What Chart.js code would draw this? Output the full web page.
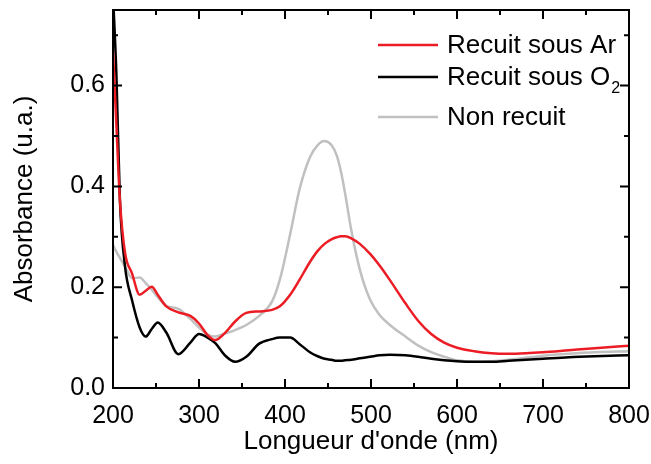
<!DOCTYPE html>
<html>
<head>
<meta charset="utf-8">
<script src="https://cdn.jsdelivr.net/npm/chart.js@4"></script>
<style>
  html, body { margin: 0; padding: 0; background: #fff; }
</style>
</head>
<body>
<canvas id="spectra" width="651" height="464"></canvas>
<script>
// wavelengths (nm)
const wavelengths = [200, 204, 208, 214, 222, 231, 238, 245, 252, 262, 276, 290, 300, 310, 319, 330, 342, 355,
    370, 385, 394, 406, 417, 429, 438, 446, 454, 460, 465, 470, 477, 487, 499, 510, 522, 540, 555, 570, 585, 600,
    620, 640, 660, 680, 700, 730, 760, 800];

// absorbance (u.a.)
const recuitAr = [0.668, 0.52, 0.374, 0.268, 0.228, 0.185, 0.193, 0.201, 0.185, 0.162, 0.150, 0.143, 0.128, 0.105, 0.095, 0.109, 0.132, 0.149,
    0.152, 0.155, 0.162, 0.185, 0.215, 0.250, 0.272, 0.286, 0.295, 0.299, 0.301, 0.301, 0.297, 0.286, 0.266, 0.243, 0.214, 0.168, 0.133, 0.107, 0.090, 0.080,
    0.073, 0.069, 0.068, 0.069, 0.071, 0.075, 0.079, 0.084];
const recuitO2 = [0.78, 0.62, 0.374, 0.241, 0.175, 0.120, 0.102, 0.117, 0.130, 0.110, 0.067, 0.090, 0.107, 0.100, 0.089, 0.065, 0.052, 0.062,
    0.088, 0.097, 0.100, 0.100, 0.087, 0.071, 0.063, 0.058, 0.056, 0.054, 0.054, 0.055, 0.056, 0.059, 0.062, 0.065, 0.066, 0.065, 0.062, 0.058, 0.055, 0.053,
    0.052, 0.052, 0.054, 0.056, 0.058, 0.061, 0.063, 0.065];
const nonRecuit = [0.284, 0.270, 0.258, 0.241, 0.218, 0.219, 0.208, 0.195, 0.180, 0.163, 0.157, 0.137, 0.120, 0.106, 0.102, 0.108, 0.115, 0.125,
    0.143, 0.172, 0.215, 0.305, 0.395, 0.458, 0.482, 0.490, 0.482, 0.462, 0.430, 0.385, 0.314, 0.235, 0.175, 0.145, 0.125, 0.102, 0.084, 0.071, 0.062, 0.055,
    0.052, 0.053, 0.056, 0.060, 0.064, 0.068, 0.071, 0.073];

const xTicks = [200, 300, 400, 500, 600, 700, 800];
const xMinorTicks = [250, 350, 450, 550, 650, 750];
const yTicks = [0, 0.2, 0.4, 0.6];
const yMinorTicks = [0.1, 0.3, 0.5, 0.7];

const FONT = "'Liberation Sans', Arial, sans-serif";

const toPoints = ys => wavelengths.map((x, i) => ({ x: x, y: ys[i] }));

// frame with inward ticks on all four sides
const frameTicks = {
    id: "frameTicks",
    afterDraw(chart) {
        const { ctx, chartArea: a, scales: { x, y } } = chart;
        ctx.save();
        ctx.strokeStyle = "#000";
        ctx.lineWidth = 2;
        ctx.beginPath();
        const tick = (px, len, horiz) => {
            if (horiz) {
                ctx.moveTo(px, a.bottom); ctx.lineTo(px, a.bottom - len);
                ctx.moveTo(px, a.top); ctx.lineTo(px, a.top + len);
            } else {
                ctx.moveTo(a.left, px); ctx.lineTo(a.left + len, px);
                ctx.moveTo(a.right, px); ctx.lineTo(a.right - len, px);
            }
        };
        xTicks.forEach(v => tick(x.getPixelForValue(v), 9, true));
        xMinorTicks.forEach(v => tick(x.getPixelForValue(v), 5, true));
        yTicks.forEach(v => tick(y.getPixelForValue(v), 9, false));
        yMinorTicks.forEach(v => tick(y.getPixelForValue(v), 5, false));
        ctx.stroke();
        ctx.strokeRect(a.left, a.top, a.right - a.left, a.bottom - a.top);
        ctx.restore();
    }
};

// legend in the upper right, with subscript for O2
const innerLegend = {
    id: "innerLegend",
    afterDraw(chart) {
        const ctx = chart.ctx;
        const rows = [45, 77, 117];
        ctx.save();
        ctx.textBaseline = "middle";
        ctx.fillStyle = "#000";
        chart.data.datasets.forEach((ds, i) => {
            const yy = rows[i];
            ctx.strokeStyle = ds.borderColor;
            ctx.lineWidth = 2.5;
            ctx.beginPath();
            ctx.moveTo(378, yy);
            ctx.lineTo(438, yy);
            ctx.stroke();

            const parts = ds.label.split("₂");
            ctx.font = "26px " + FONT;
            ctx.fillText(parts[0], 447, yy + 1);
            if (parts.length > 1) {
                const w = ctx.measureText(parts[0]).width;
                ctx.font = "16px " + FONT;
                ctx.fillText("2", 447 + w + 1, yy + 12);
            }
        });
        ctx.restore();
    }
};

new Chart(document.getElementById("spectra"), {
    type: "line",
    data: {
        datasets: [
            { label: "Recuit sous Ar", data: toPoints(recuitAr), borderColor: "#ec1c24" },
            { label: "Recuit sous O₂", data: toPoints(recuitO2), borderColor: "#000000" },
            { label: "Non recuit", data: toPoints(nonRecuit), borderColor: "#c0c0c0" }
        ]
    },
    options: {
        responsive: false,
        animation: false,
        devicePixelRatio: 1,
        layout: { autoPadding: false, padding: { top: 10, right: 22, left: 0, bottom: 0 } },
        elements: {
            point: { radius: 0 },
            line: { borderWidth: 2.5, cubicInterpolationMode: "monotone" }
        },
        datasets: { line: { clip: 0 } },
        plugins: {
            legend: { display: false },
            tooltip: { enabled: false }
        },
        scales: {
            x: {
                type: "linear",
                min: 200,
                max: 800,
                grid: { display: false },
                border: { display: false },
                afterBuildTicks: s => { s.ticks = xTicks.map(v => ({ value: v })); },
                afterFit: s => { s.height = 76; s.paddingLeft = 0; s.paddingRight = 0; },
                ticks: {
                    color: "#000",
                    padding: 5,
                    maxRotation: 0,
                    font: { family: FONT, size: 25 }
                },
                title: {
                    display: true,
                    text: "Longueur d'onde (nm)",
                    color: "#000",
                    padding: { top: 0, bottom: 7 },
                    font: { family: FONT, size: 26 }
                }
            },
            y: {
                min: 0,
                max: 0.75,
                grid: { display: false },
                border: { display: false },
                afterBuildTicks: s => { s.ticks = yTicks.map(v => ({ value: v })); },
                afterFit: s => { s.width = 113; s.paddingTop = 0; s.paddingBottom = 0; },
                ticks: {
                    color: "#000",
                    padding: 0,
                    font: { family: FONT, size: 25 },
                    callback: v => v.toFixed(1)
                },
                title: {
                    display: true,
                    text: "Absorbance (u.a.)",
                    color: "#000",
                    padding: { top: 9, bottom: 0 },
                    font: { family: FONT, size: 26 }
                }
            }
        }
    },
    plugins: [frameTicks, innerLegend]
});
</script>
</body>
</html>
